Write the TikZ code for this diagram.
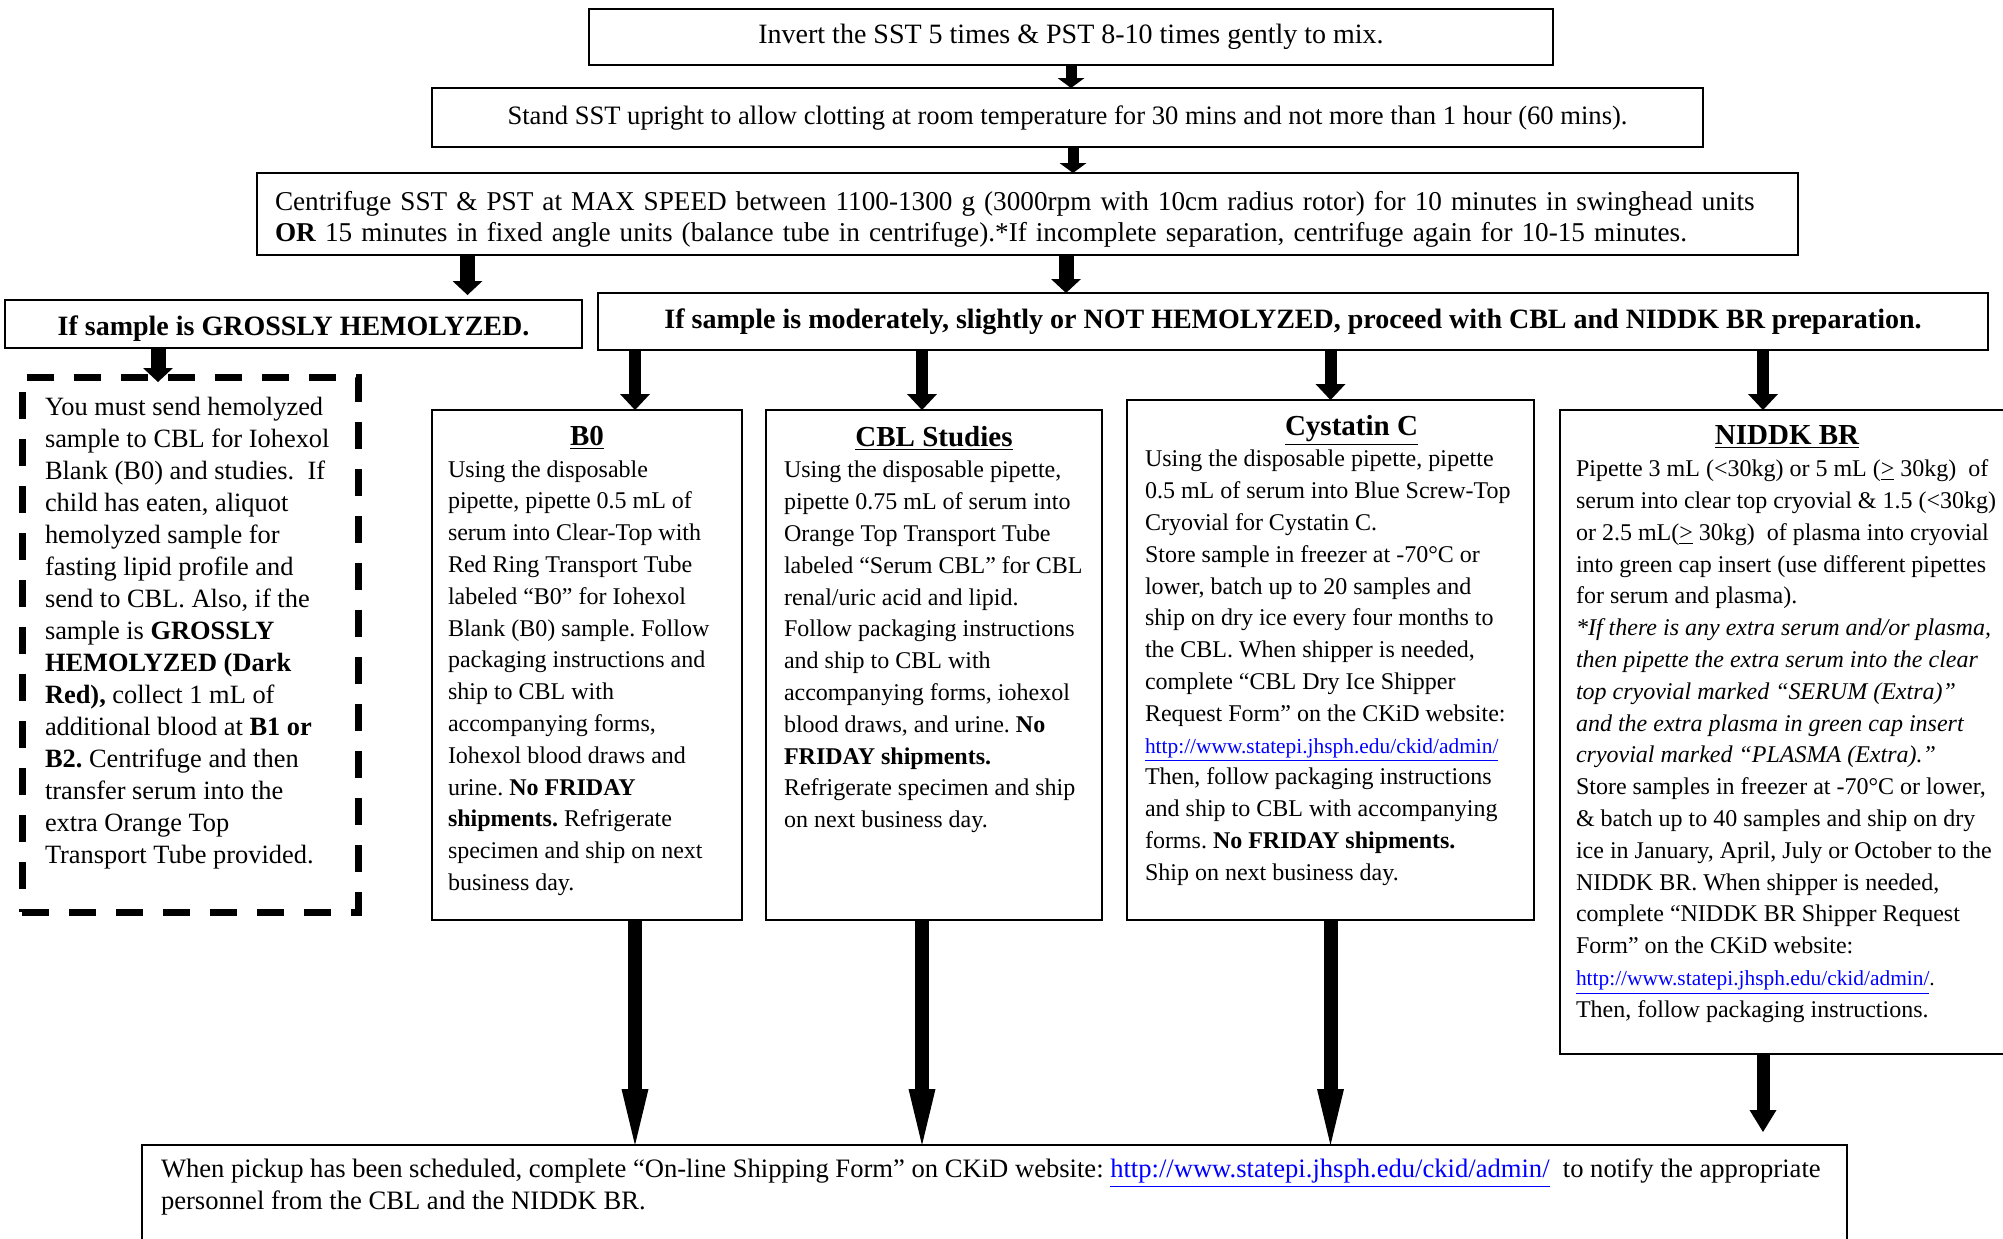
\documentclass[tikz,border=0pt]{standalone}
\usepackage{fontspec}
\setmainfont{Liberation Serif}
\usetikzlibrary{arrows.meta}
\frenchspacing
\newcommand\weblink[1]{\textcolor{blue}{\underline{#1}}}
\newcommand\colhead[2][0pt]{{\centering\hspace*{#1}\fontsize{14.5}{16}\selectfont\textbf{\underline{#2}}\par}}

\begin{document}
\begin{tikzpicture}[x=0.5pt,y=-0.5pt,
  box/.style={draw, line width=1pt, anchor=north west, inner sep=0pt, outer sep=0pt, align=center},
  colbox/.style={draw, line width=1pt, anchor=north west, inner xsep=8pt, inner ysep=0pt, outer sep=0pt},
  dashbox/.style={draw, line width=3.5pt, dash pattern=on 13.5pt off 10pt, anchor=north west, inner xsep=11.5pt, inner ysep=0pt, outer sep=0pt},
  flow/.style={line width=5.5pt, -{Triangle[length=5pt,width=13.5pt,line width=0pt]}},
  drop/.style={line width=7.5pt, -{Triangle[length=7pt,width=15pt,line width=0pt]}},
  branch/.style={line width=6pt, -{Triangle[length=8pt,width=15pt,line width=0pt]}},
  feed/.style={line width=7pt, -{Triangle[length=28pt,width=13.5pt,line width=0pt]}},
  tail/.style={line width=6.5pt, -{Triangle[length=11pt,width=13.5pt,line width=0pt]}}]
\useasboundingbox (0,0) rectangle (2003,1238);

% steps at the top
\node[box, minimum width=482pt, minimum height=28pt, font=\fontsize{14}{16}\selectfont] (inv) at (589,9)
  {Invert the SST 5 times \& PST 8-10 times gently to mix.};
\node[box, minimum width=635.5pt, minimum height=29.5pt, font=\fontsize{13.3}{16}\selectfont] (stand) at (432,88)
  {Stand SST upright to allow clotting at room temperature for 30 mins and not more than 1 hour (60 mins).};
\node[box, align=left, text width=752.5pt, inner xsep=9pt, minimum height=41pt, font=\fontsize{13.6}{15.2}\selectfont] (cent) at (257,173)
  {\rule{0pt}{15pt}Centrifuge SST \& PST at MAX SPEED between 1100-1300 g (3000rpm with 10cm radius rotor) for 10 minutes in swinghead units\\
   \textbf{OR} 15 minutes in fixed angle units (balance tube in centrifuge).*If incomplete separation, centrifuge again for 10-15 minutes.};

% the two cases
\node[box, minimum width=288.5pt, minimum height=24pt, font=\fontsize{14}{16}\selectfont\bfseries] (gross) at (5,300)
  {\rule{0pt}{14.8pt}If sample is GROSSLY HEMOLYZED.};
\node[box, minimum width=695pt, minimum height=28.5pt, font=\fontsize{14}{16}\selectfont\bfseries] (mod) at (598,293)
  {If sample is moderately, slightly or NOT HEMOLYZED, proceed with CBL and NIDDK BR preparation.};

\node[dashbox] (hemo) at (22,377) {\parbox[t][267.5pt][t]{145pt}{\vspace*{10pt}\fontsize{13.2}{16}\selectfont\raggedright
  You must send hemolyzed\\
  sample to CBL for Iohexol\\
  Blank (B0) and studies.\ \ If\\
  child has eaten, aliquot\\
  hemolyzed sample for\\
  fasting lipid profile and\\
  send to CBL. Also, if the\\
  sample is \textbf{GROSSLY}\\
  \textbf{HEMOLYZED (Dark}\\
  \textbf{Red),} collect 1 mL of\\
  additional blood at \textbf{B1 or}\\
  \textbf{B2.} Centrifuge and then\\
  transfer serum into the\\
  extra Orange Top\\
  Transport Tube provided.}};

% the four preparations
\node[colbox] (b0) at (432,410) {\parbox[t][255pt][t]{139pt}{\vspace*{8pt}\fontsize{12}{15.9}\selectfont
  \colhead{B0}\raggedright
  Using the disposable\\
  pipette, pipette 0.5 mL of\\
  serum into Clear-Top with\\
  Red Ring Transport Tube\\
  labeled “B0” for Iohexol\\
  Blank (B0) sample. Follow\\
  packaging instructions and\\
  ship to CBL with\\
  accompanying forms,\\
  Iohexol blood draws and\\
  urine. \textbf{No FRIDAY}\\
  \textbf{shipments.} Refrigerate\\
  specimen and ship on next\\
  business day.}};
\node[colbox, inner xsep=9pt] (cbl) at (766,410) {\parbox[t][255pt][t]{150pt}{\vspace*{8pt}\fontsize{12}{15.9}\selectfont
  \colhead{CBL Studies}\raggedright
  Using the disposable pipette,\\
  pipette 0.75 mL of serum into\\
  Orange Top Transport Tube\\
  labeled “Serum CBL” for CBL\\
  renal/uric acid and lipid.\\
  Follow packaging instructions\\
  and ship to CBL with\\
  accompanying forms, iohexol\\
  blood draws, and urine. \textbf{No}\\
  \textbf{FRIDAY shipments.}\\
  Refrigerate specimen and ship\\
  on next business day.}};
\node[colbox, inner xsep=9pt] (cys) at (1127,400) {\parbox[t][260pt][t]{185.5pt}{\vspace*{7.5pt}\fontsize{12}{15.9}\selectfont
  \colhead[21pt]{Cystatin C}\raggedright
  Using the disposable pipette, pipette\\
  0.5 mL of serum into Blue Screw-Top\\
  Cryovial for Cystatin C.\\
  Store sample in freezer at -70°C or\\
  lower, batch up to 20 samples and\\
  ship on dry ice every four months to\\
  the CBL. When shipper is needed,\\
  complete “CBL Dry Ice Shipper\\
  Request Form” on the CKiD website:\\
  {\fontsize{10.7}{15.9}\selectfont\weblink{http://www.statepi.jhsph.edu/ckid/admin/}}\\
  Then, follow packaging instructions\\
  and ship to CBL with accompanying\\
  forms. \textbf{No FRIDAY shipments.}\\
  Ship on next business day.}};
\node[colbox] (nid) at (1560,410) {\parbox[t][322pt][t]{211pt}{\vspace*{8pt}\fontsize{12}{15.9}\selectfont
  \colhead{NIDDK BR}\raggedright
  Pipette 3 mL (<30kg) or 5 mL (\underline{>} 30kg)\ \ of\\
  serum into clear top cryovial \& 1.5 (<30kg)\\
  or 2.5 mL(\underline{>} 30kg)\ \ of plasma into cryovial\\
  into green cap insert (use different pipettes\\
  for serum and plasma).\\
  \textit{*If there is any extra serum and/or plasma,}\\
  \textit{then pipette the extra serum into the clear}\\
  \textit{top cryovial marked “SERUM (Extra)”}\\
  \textit{and the extra plasma in green cap insert}\\
  \textit{cryovial marked “PLASMA (Extra).”}\\
  Store samples in freezer at -70°C or lower,\\
  \& batch up to 40 samples and ship on dry\\
  ice in January, April, July or October to the\\
  NIDDK BR. When shipper is needed,\\
  complete “NIDDK BR Shipper Request\\
  Form” on the CKiD website:\\
  {\fontsize{10.7}{15.9}\selectfont\weblink{http://www.statepi.jhsph.edu/ckid/admin/}.}\\
  Then, follow packaging instructions.}};

% last step
\node[colbox, inner xsep=9.5pt] (foot) at (142,1145) {\parbox[t][52.5pt][t]{833.5pt}{\vspace*{7pt}\fontsize{13.3}{16}\selectfont\raggedright
  When pickup has been scheduled, complete “On-line Shipping Form” on CKiD website: \weblink{http://www.statepi.jhsph.edu/ckid/admin/}\ \ to notify the appropriate\\
  personnel from the CBL and the NIDDK BR.}};

% arrow ends
\coordinate (grossin) at ([xshift=87pt,yshift=2.5pt]gross.north);
\coordinate (modin) at ([xshift=-113.5pt]mod.north);
\coordinate (hemoin) at ([xshift=-16pt,yshift=-2.5pt]hemo.north);
\coordinate (b0in) at ([xshift=24pt]b0.north);
\coordinate (cblin) at ([xshift=-6pt]cbl.north);
\coordinate (cysin) at (cys.north);
\coordinate (nidin) at ([xshift=-12pt]nid.north);
\path (foot.north -| nidin) coordinate (nidfoot);

\draw[flow] (inv.south) -- (inv.south |- stand.north);
\draw[flow] ([xshift=2.75pt]stand.south) -- ([xshift=2.75pt]stand.south |- cent.north);
\draw[drop] (cent.south -| grossin) -- (grossin);
\draw[drop] (cent.south -| modin) -- (modin);
\draw[drop] (gross.south -| hemoin) -- (hemoin);
\foreach \c in {b0in,cblin,cysin,nidin}
  \draw[branch] (mod.south -| \c) -- (\c);
\draw[feed] (b0.south -| b0in) -- (foot.north -| b0in);
\draw[feed] (cbl.south -| cblin) -- (foot.north -| cblin);
\draw[feed] (cys.south -| cysin) -- (foot.north -| cysin);
\draw[tail] (nid.south -| nidin) -- ([yshift=6.5pt]nidfoot);
\end{tikzpicture}
\end{document}
